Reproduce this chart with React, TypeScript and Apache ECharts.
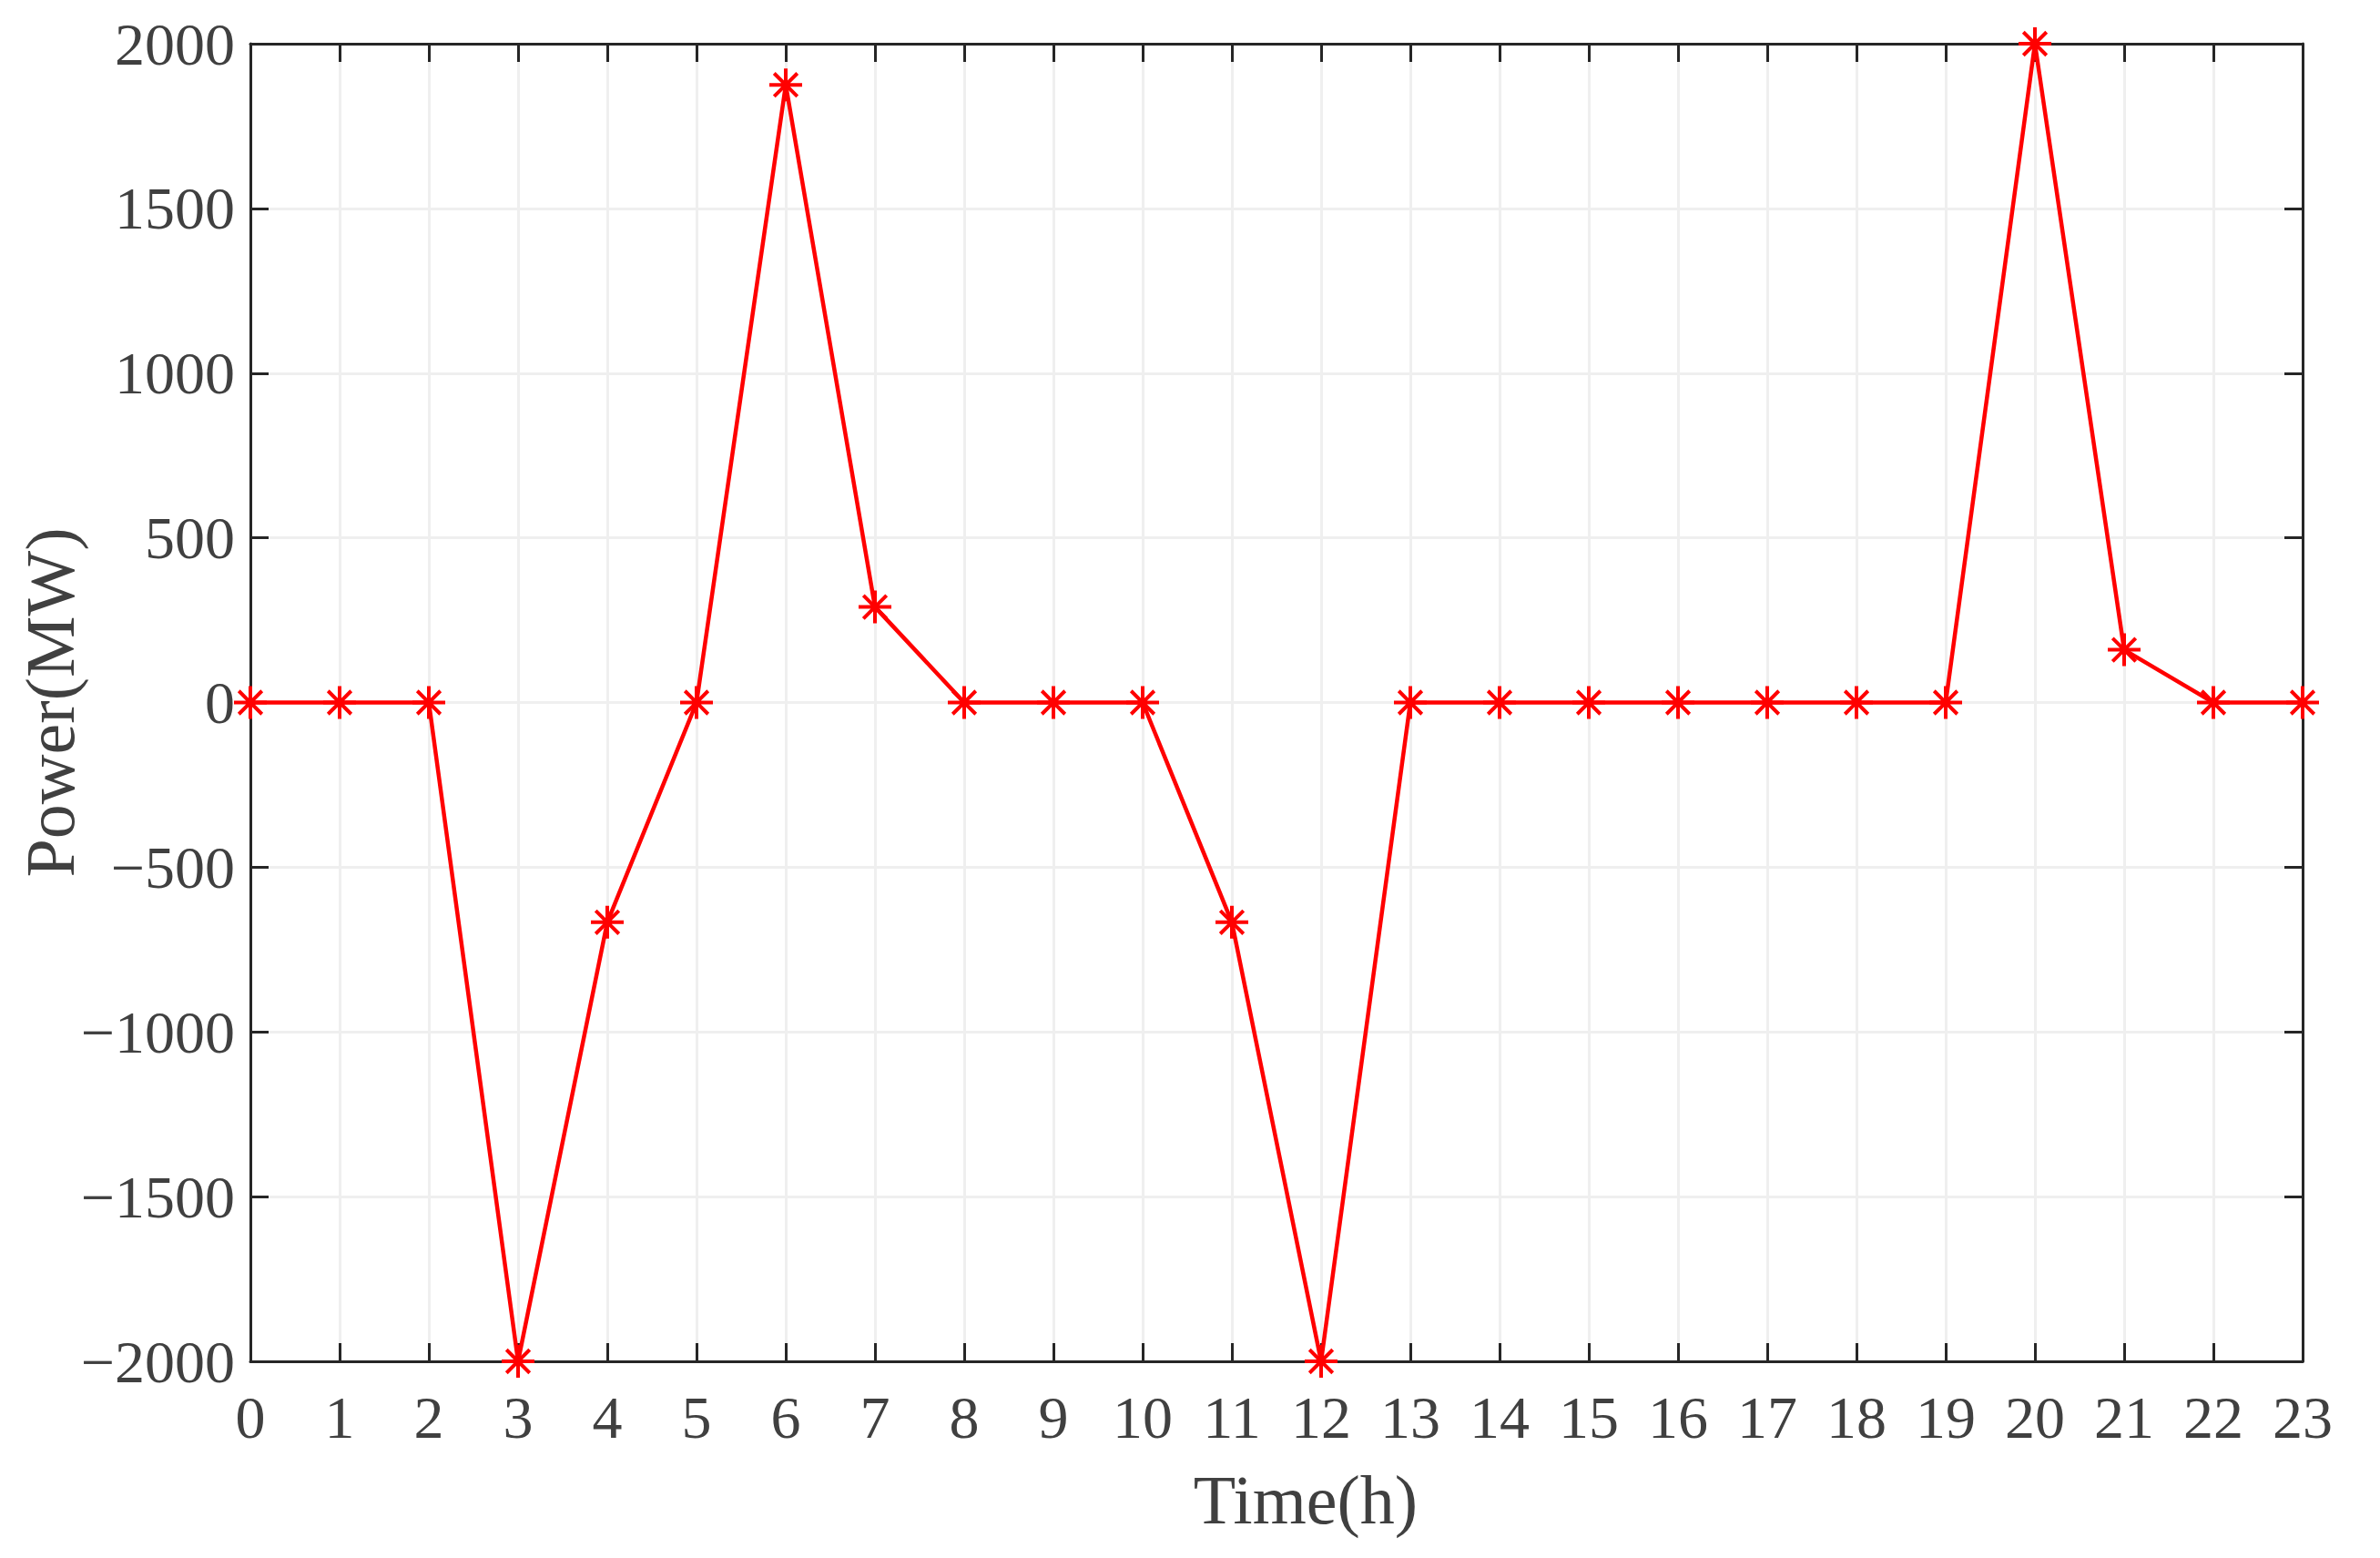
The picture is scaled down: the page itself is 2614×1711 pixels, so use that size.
import React, { useEffect, useRef } from "react";
import * as echarts from "echarts";

const hours: number[] = [0, 1, 2, 3, 4, 5, 6, 7, 8, 9, 10, 11, 12, 13, 14, 15, 16, 17, 18, 19, 20, 21, 22, 23];
const power: number[] = [0, 0, 0, -2000, -667, 0, 1875, 290, 0, 0, 0, -667, -2000, 0, 0, 0, 0, 0, 0, 0, 2000, 160, 0, 0];
const xTitle = "Time(h)";
const yTitle = "Power(MW)";

const FONT = "'Liberation Serif', 'DejaVu Serif', serif";
const AXIS_COLOR = "#262626";
const TEXT_COLOR = "#404040";
const GRID_COLOR = "#efefef";

const fmt = (v: number) => (v < 0 ? "\u2212" + Math.abs(v) : String(v));

export default function App() {
  const ref = useRef<HTMLDivElement>(null);
  useEffect(() => {
    if (!ref.current) return;
    const chart = echarts.init(ref.current, undefined, { renderer: "svg" });
    const axisLine = { show: true, onZero: false, lineStyle: { color: AXIS_COLOR, width: 3 } };
    const tick = { show: true, inside: true, length: 20, lineStyle: { color: AXIS_COLOR, width: 3 } };
    const label = { color: TEXT_COLOR, fontFamily: FONT, fontSize: 66 };
    const nameStyle = { color: TEXT_COLOR, fontFamily: FONT, fontSize: 76, lineHeight: 80 };
    chart.setOption({
      animation: false,
      backgroundColor: "#ffffff",
      grid: { left: 275, right: 85, top: 48, bottom: 216, containLabel: false, outerBoundsMode: "none" },
      xAxis: [
        {
          type: "value",
          position: "bottom",
          min: 0,
          max: 23,
          interval: 1,
          axisLine,
          axisTick: tick,
          axisLabel: { ...label, margin: 28, formatter: fmt },
          splitLine: { show: true, lineStyle: { color: GRID_COLOR, width: 3 } },
          name: xTitle,
          nameLocation: "middle",
          nameGap: 112,
          nameMoveOverlap: false,
          nameTextStyle: { ...nameStyle, padding: [0, 0, 0, 64] },
        },
        {
          type: "value",
          position: "top",
          min: 0,
          max: 23,
          interval: 1,
          axisLine,
          axisTick: tick,
          axisLabel: { show: false },
          splitLine: { show: false },
        },
      ],
      yAxis: [
        {
          type: "value",
          position: "left",
          min: -2000,
          max: 2000,
          interval: 500,
          axisLine,
          axisTick: tick,
          axisLabel: { ...label, margin: 17, formatter: fmt },
          splitLine: { show: true, lineStyle: { color: GRID_COLOR, width: 3 } },
          name: yTitle,
          nameLocation: "middle",
          nameGap: 180,
          nameMoveOverlap: false,
          nameTextStyle: nameStyle,
        },
        {
          type: "value",
          position: "right",
          min: -2000,
          max: 2000,
          interval: 500,
          axisLine,
          axisTick: tick,
          axisLabel: { show: false },
          splitLine: { show: false },
        },
      ],
      series: [
        {
          type: "line",
          xAxisIndex: 0,
          yAxisIndex: 0,
          data: hours.map((h, i) => [h, power[i]]),
          clip: false,
          symbol: "path://M0,-1L0,1M-1,0L1,0M-0.707,-0.707L0.707,0.707M-0.707,0.707L0.707,-0.707",
          symbolSize: 36,
          itemStyle: { color: "#ff0000", borderColor: "#ff0000", borderWidth: 4 },
          lineStyle: { color: "#ff0000", width: 4.5 },
          z: 5,
        },
      ],
    });
    return () => chart.dispose();
  }, []);
  return (
    <div
      ref={ref}
      style={{ position: "fixed", left: 0, top: 0, width: 2614, height: 1711, background: "#fff" }}
    />
  );
}
